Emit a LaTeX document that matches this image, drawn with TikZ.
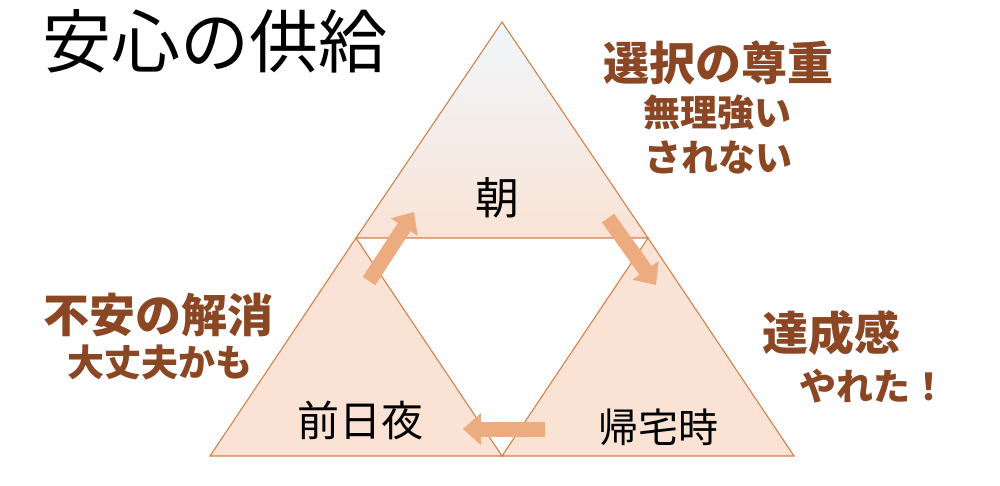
\documentclass[tikz,border=0pt]{standalone}
\usepackage{fontspec}
\setmainfont{Noto Sans CJK JP}
\usetikzlibrary{arrows.meta}
\definecolor{edge}{RGB}{212,128,74}
\definecolor{peach}{RGB}{250,226,212}
\definecolor{peachtop}{RGB}{249,227,214}
\definecolor{haze}{RGB}{246,239,236}
\definecolor{sky}{RGB}{240,247,252}
\definecolor{flow}{RGB}{237,172,128}
\definecolor{rust}{RGB}{139,70,36}

\begin{document}
\begin{tikzpicture}[x=1pt, y=-1pt,
  tri/.style={draw=edge, line width=1.1pt, line join=miter},
  flowarrow/.style={draw=flow, line width=15pt, -{Triangle[length=18pt, width=31pt]}},
  lbl/.style={inner sep=0, outer sep=0, text=black},
  note/.style={inner sep=0, outer sep=0, text=rust},
  bignote/.style={note, font=\bfseries\fontsize{46}{46}\selectfont},
  subnote/.style={note, font=\bfseries\fontsize{37}{37}\selectfont}]
 \useasboundingbox (0,0) rectangle (1000,485);

 % corners of the three triangles
 \coordinate (T) at (502,22);
 \coordinate (L) at (356,238);
 \coordinate (R) at (648,238);
 \coordinate (BL) at (210,456);
 \coordinate (BM) at (502,456);
 \coordinate (BR) at (794,456);

 \shade [top color=sky, middle color=haze, bottom color=peachtop] (T)--(R)--(L)--cycle;
 \draw [tri] (T)--(R)--(L)--cycle;
 \fill [peach] (L)--(BM)--(BL)--cycle;
 \draw [tri] (L)--(BM)--(BL)--cycle;
 \fill [peach] (R)--(BR)--(BM)--cycle;
 \draw [tri] (R)--(BR)--(BM)--cycle;

 % cycle arrows
 \coordinate (up1) at (369,281);
 \coordinate (up2) at (414,212);
 \draw [flowarrow] (up1)--(up2);
 \coordinate (dn1) at (608,218);
 \coordinate (dn2) at (656,285);
 \draw [flowarrow] (dn1)--(dn2);
 \coordinate (bk1) at (545,429);
 \coordinate (bk2) at (463,429);
 \draw [flowarrow] (bk1)--(bk2);

 \node [lbl, font=\fontsize{69}{69}\selectfont] (title) at (215,41) {安心の供給};

 \node [lbl, font=\fontsize{44}{44}\selectfont] (morning) at (497,198) {朝};
 \node [lbl, font=\fontsize{42}{42}\selectfont] (night) at (360,420) {前日夜};
 \node [lbl, font=\fontsize{40}{40}\selectfont] (home) at (658,427) {帰宅時};

 \node [bignote] (choice) at (718,63) {選択の尊重};
 \node [subnote] (choice2) at (717,112) {無理強い};
 \node [subnote] (choice3) at (718,157) {されない};

 \node [bignote] (relief) at (158,315) {不安の解消};
 \node [subnote] (relief2) at (160,362) {大丈夫かも};

 \node [bignote] (done) at (831,333) {達成感};
 \node [subnote, anchor=west] (done2) at (799,386) {やれた！};
\end{tikzpicture}
\end{document}
